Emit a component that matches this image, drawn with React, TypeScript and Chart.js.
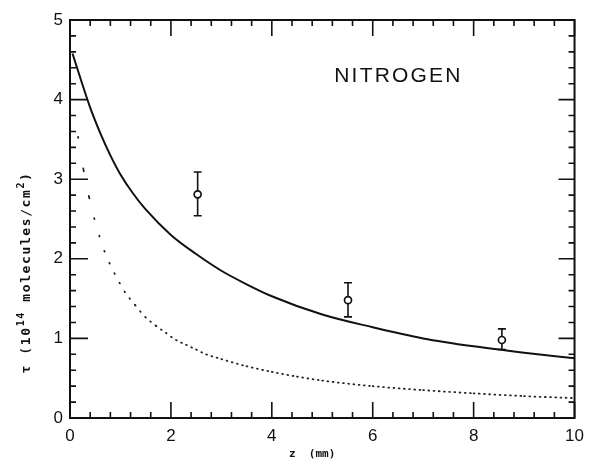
import React, { useEffect, useRef } from "react";
import { Chart, registerables } from "chart.js";
Chart.register(...registerables);

// Solid curve (model)
const solidZ = [0.05, 0.2, 0.4, 0.6, 0.8, 1.0, 1.25, 1.5, 2.0, 2.5, 3.0, 3.5, 4.0, 5.0, 6.0, 7.0, 8.0, 9.0, 10.0];
const solidTau = [4.58, 4.28, 3.9, 3.58, 3.3, 3.06, 2.82, 2.62, 2.3, 2.06, 1.85, 1.68, 1.53, 1.3, 1.14, 1.0, 0.9, 0.82, 0.75];

// Dotted curve
const dottedZ = [0.16, 0.27, 0.38, 0.48, 0.58, 0.68, 0.78, 0.88, 0.98, 1.08, 1.29, 1.49, 1.7, 1.9, 2.1, 2.3, 2.5, 2.7, 3.0, 3.5, 4.0, 4.5, 5.0, 6.0, 7.0, 8.0, 9.0, 10.0];
const dottedTau = [3.53, 3.11, 2.77, 2.51, 2.29, 2.1, 1.95, 1.82, 1.7, 1.59, 1.42, 1.27, 1.16, 1.07, 0.98, 0.92, 0.86, 0.8, 0.74, 0.65, 0.58, 0.52, 0.47, 0.4, 0.35, 0.31, 0.275, 0.25];

// Measured points with error bars
const obsZ = [2.53, 5.51, 8.56];
const obsTau = [2.81, 1.48, 0.98];
const obsLow = [2.54, 1.27, 0.86];
const obsHigh = [3.09, 1.7, 1.12];

const xMajor = [0, 2, 4, 6, 8, 10];
const yMajor = [0, 1, 2, 3, 4, 5];
const xMinorStep = 0.4;
const yMinorStep = 0.2;

const annotation = "NITROGEN";
const annotationZ = 6.49;
const annotationTau = 4.29;

const FONT_NUM = "'Liberation Sans', Arial, sans-serif";
const FONT_MONO = "'DejaVu Sans Mono', monospace";

const DOT_DX = 5.2; // horizontal pixel spacing of the dots

const framePlugin = {
  id: "framePlugin",
  beforeDatasetsDraw(chart: any) {
    const ctx = chart.ctx;
    const xs = chart.scales.x;
    const ys = chart.scales.y;
    ctx.save();
    ctx.strokeStyle = "#111";
    ctx.lineWidth = 1.6;
    for (let i = 0; i < obsZ.length; i++) {
      const px = xs.getPixelForValue(obsZ[i]);
      const pLo = ys.getPixelForValue(obsLow[i]);
      const pHi = ys.getPixelForValue(obsHigh[i]);
      ctx.beginPath();
      ctx.moveTo(px, pLo);
      ctx.lineTo(px, pHi);
      ctx.moveTo(px - 4, pLo);
      ctx.lineTo(px + 4, pLo);
      ctx.moveTo(px - 4, pHi);
      ctx.lineTo(px + 4, pHi);
      ctx.stroke();
    }
    ctx.restore();
  },
  afterDraw(chart: any) {
    const ctx = chart.ctx;
    const xs = chart.scales.x;
    const ys = chart.scales.y;
    const a = chart.chartArea;
    ctx.save();
    ctx.strokeStyle = "#111";
    ctx.lineWidth = 2;
    ctx.strokeRect(a.left, a.top, a.right - a.left, a.bottom - a.top);
    ctx.lineWidth = 1.6;
    const majLen = 16;
    const minLen = 6;
    ctx.beginPath();
    for (let k = 0; k < xMajor.length; k++) {
      const px = xs.getPixelForValue(xMajor[k]);
      ctx.moveTo(px, a.bottom);
      ctx.lineTo(px, a.bottom - majLen);
      ctx.moveTo(px, a.top);
      ctx.lineTo(px, a.top + majLen);
      if (k < xMajor.length - 1) {
        for (let v = xMajor[k] + xMinorStep; v < xMajor[k + 1] - 1e-6; v += xMinorStep) {
          const pm = xs.getPixelForValue(v);
          ctx.moveTo(pm, a.bottom);
          ctx.lineTo(pm, a.bottom - minLen);
          ctx.moveTo(pm, a.top);
          ctx.lineTo(pm, a.top + minLen);
        }
      }
    }
    for (let k = 0; k < yMajor.length; k++) {
      const py = ys.getPixelForValue(yMajor[k]);
      ctx.moveTo(a.left, py);
      ctx.lineTo(a.left + majLen + 2, py);
      ctx.moveTo(a.right, py);
      ctx.lineTo(a.right - majLen, py);
      if (k < yMajor.length - 1) {
        for (let v = yMajor[k] + yMinorStep; v < yMajor[k + 1] - 1e-6; v += yMinorStep) {
          const pm = ys.getPixelForValue(v);
          ctx.moveTo(a.left, pm);
          ctx.lineTo(a.left + minLen, pm);
          ctx.moveTo(a.right, pm);
          ctx.lineTo(a.right - minLen, pm);
        }
      }
    }
    ctx.stroke();

    // annotation
    ctx.fillStyle = "#111";
    ctx.font = `21px ${FONT_NUM}`;
    (ctx as any).letterSpacing = "2.2px";
    ctx.textAlign = "center";
    ctx.textBaseline = "middle";
    ctx.fillText(annotation, xs.getPixelForValue(annotationZ) + 1, ys.getPixelForValue(annotationTau));

    // y title (rotated, with superscripts)
    const segs = [
      { t: "τ (10", sup: false },
      { t: "14", sup: true },
      { t: " molecules/cm", sup: false },
      { t: "2", sup: true },
      { t: ")", sup: false },
    ];
    ctx.save();
    ctx.translate(30, 272.5);
    ctx.rotate(-Math.PI / 2);
    ctx.textAlign = "left";
    ctx.textBaseline = "alphabetic";
    (ctx as any).letterSpacing = "1.6px";
    const mainFont = `bold 13px ${FONT_MONO}`;
    const supFont = `bold 10px ${FONT_MONO}`;
    let total = 0;
    for (const s of segs) {
      ctx.font = s.sup ? supFont : mainFont;
      total += ctx.measureText(s.t).width;
    }
    let cx = -total / 2;
    for (const s of segs) {
      ctx.font = s.sup ? supFont : mainFont;
      ctx.fillText(s.t, cx, s.sup ? -6 : 0);
      cx += ctx.measureText(s.t).width;
    }
    ctx.restore();

    // x title
    ctx.font = `bold 11px ${FONT_MONO}`;
    (ctx as any).letterSpacing = "0px";
    ctx.textAlign = "left";
    ctx.textBaseline = "alphabetic";
    ctx.fillText("z  (mm)", 289, 457);
    ctx.restore();
  },
};

export default function App() {
  const ref = useRef<HTMLCanvasElement | null>(null);
  useEffect(() => {
    if (!ref.current) return;
    const chart = new Chart(ref.current, {
      type: "scatter",
      data: {
        datasets: [
          {
            label: "model",
            data: solidZ.map((z, i) => ({ x: z, y: solidTau[i] })),
            showLine: true,
            borderColor: "#111",
            borderWidth: 2,
            pointRadius: 0,
            cubicInterpolationMode: "monotone",
            fill: false,
          },
          {
            label: "dotted",
            data: dottedZ.map((z, i) => ({ x: z, y: dottedTau[i] })),
            showLine: true,
            borderColor: "#222",
            borderWidth: 1.8,
            borderCapStyle: "round",
            pointRadius: 0,
            cubicInterpolationMode: "monotone",
            fill: false,
            segment: {
              borderDash: (c: any) => {
                const dx = Math.abs(c.p1.x - c.p0.x) || 1;
                const dy = c.p1.y - c.p0.y;
                const period = (DOT_DX * Math.hypot(dx, dy)) / dx;
                return [0.8, Math.max(period - 0.8, 1)];
              },
            },
          },
          {
            label: "obs",
            data: obsZ.map((z, i) => ({ x: z, y: obsTau[i] })),
            showLine: false,
            pointRadius: 3.5,
            pointBorderWidth: 1.7,
            pointBackgroundColor: "#fff",
            pointBorderColor: "#111",
          },
        ],
      } as any,
      options: {
        animation: false,
        responsive: true,
        maintainAspectRatio: false,
        layout: { padding: { top: 20, right: 8, left: 0, bottom: 0 } },
        plugins: { legend: { display: false }, tooltip: { enabled: false } },
        scales: {
          x: {
            type: "linear",
            min: 0,
            max: 10,
            afterFit: (s: any) => {
              s.height = 42;
            },
            grid: { display: false, drawTicks: false },
            border: { display: false },
            ticks: {
              stepSize: 2,
              padding: 8,
              color: "#111",
              font: { family: FONT_NUM, size: 17 },
              maxRotation: 0,
            },
          },
          y: {
            type: "linear",
            min: 0,
            max: 5,
            afterFit: (s: any) => {
              s.width = 70;
            },
            grid: { display: false, drawTicks: false },
            border: { display: false },
            ticks: {
              stepSize: 1,
              padding: 7,
              color: "#111",
              font: { family: FONT_NUM, size: 17 },
            },
          },
        },
      } as any,
      plugins: [framePlugin],
    });
    return () => chart.destroy();
  }, []);
  return (
    <div style={{ position: "absolute", left: 0, top: 0, width: 592, height: 460, background: "#fff" }}>
      <canvas ref={ref} />
    </div>
  );
}
